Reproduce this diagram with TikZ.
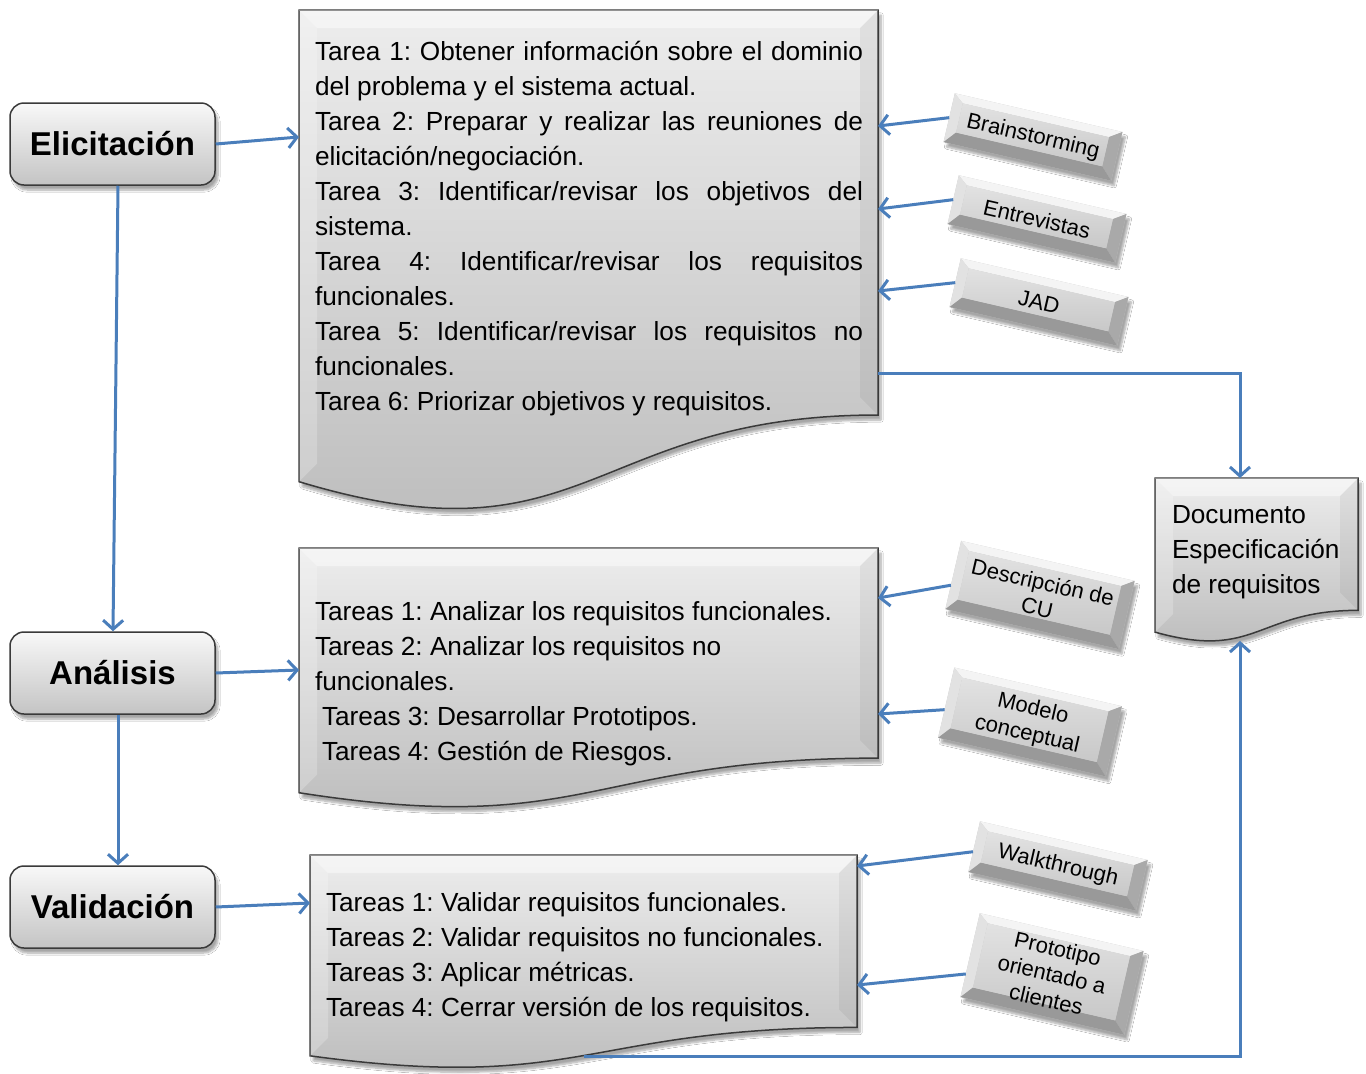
\documentclass[tikz,border=0pt]{standalone}
\usepackage{fontspec}
\setmainfont{Liberation Sans}
\usetikzlibrary{arrows.meta,calc,shadows.blur}
\frenchspacing

\definecolor{linkblue}{HTML}{4A7EBB}
\definecolor{edgegray}{HTML}{3A3A3A}
\definecolor{docTop}{HTML}{EDEDED}
\definecolor{docBot}{HTML}{B9B9B9}
\definecolor{phaseTop}{HTML}{F8F8F8}
\definecolor{phaseBot}{HTML}{C4C4C4}
\definecolor{keytop}{HTML}{F4F4F4}
\definecolor{keyleft}{HTML}{E2E2E2}
\definecolor{keyright}{HTML}{A9A9A9}
\definecolor{keybottom}{HTML}{999999}
\definecolor{keyface}{HTML}{C8C8C8}
\definecolor{keyhi}{HTML}{E2E2E2}

\tikzset{
  link/.style={draw=linkblue, line width=3pt, -{Straight Barb[length=9pt,width=20pt]}},
  softshadow/.style={blur shadow={shadow xshift=3pt, shadow yshift=-5pt, shadow blur steps=8, shadow opacity=35}},
  docfill/.style={draw=edgegray, line width=1.5pt, top color=docTop, bottom color=docBot},
  phase/.style={rounded corners=14pt, draw=edgegray, line width=1.5pt, top color=phaseTop, bottom color=phaseBot,
    minimum width=205pt, minimum height=82pt, inner sep=0pt, softshadow,
    font=\fontsize{33}{40}\selectfont\bfseries},
  frame/.style={draw=none, inner sep=0pt, outer sep=0pt},
  doctext/.style={anchor=north west, inner sep=0pt, outer sep=0pt, font=\fontsize{26.2}{35}\selectfont},
  keytext/.style={font=\fontsize{22}{26}\selectfont, align=center, inner sep=0pt, outer sep=0pt},
}

% document shape with wavy bottom edge, drawn over the frame node #1
\newcommand\docshape[1]{%
  \path[docfill, softshadow] (#1.north west) -- (#1.north east) -- ($(#1.north east)!0.802!(#1.south east)$)
     .. controls ($(#1.north)!0.802!(#1.south)$) and ($(#1.north)!1.107!(#1.south)$) .. ($(#1.north west)!0.934!(#1.south west)$) -- cycle;
  \fill[white, opacity=0.45] (#1.north west) -- (#1.north east) -- ($(#1.north east)+(-18,18)$) -- ($(#1.north west)+(18,18)$) -- cycle;
  \fill[white, opacity=0.22] (#1.north west) -- ($(#1.north west)+(18,18)$) -- ($(#1.north west)!0.934!(#1.south west)+(18,-18)$) -- ($(#1.north west)!0.934!(#1.south west)$) -- cycle;
  \fill[black, opacity=0.05] (#1.north east) -- ($(#1.north east)!0.802!(#1.south east)$) -- ($(#1.north east)!0.802!(#1.south east)+(-18,-18)$) -- ($(#1.north east)+(-18,18)$) -- cycle;
}

% bevelled key: name, centre x, centre y, width, height, label
\newcommand\keycap[6]{%
  \begin{scope}[shift={(#2,#3)}, rotate=-13]
    \pgfmathsetmacro\kx{#4/2}\pgfmathsetmacro\ky{#5/2}
    \path[softshadow, fill=keyface] (-\kx,-\ky) rectangle (\kx,\ky);
    \fill[keytop]    (-\kx,-\ky) -- (\kx,-\ky) -- (\kx-12,-\ky+8) -- (-\kx+10,-\ky+8) -- cycle;
    \fill[keyleft]   (-\kx,-\ky) -- (-\kx+10,-\ky+8) -- (-\kx+10,\ky-12) -- (-\kx,\ky) -- cycle;
    \fill[keyright]  (\kx,-\ky) -- (\kx,\ky) -- (\kx-12,\ky-12) -- (\kx-12,-\ky+8) -- cycle;
    \fill[keybottom] (-\kx,\ky) -- (-\kx+10,\ky-12) -- (\kx-12,\ky-12) -- (\kx,\ky) -- cycle;
    \shade[top color=keyhi, bottom color=keyface] (-\kx+10,-\ky+8) rectangle (\kx-12,\ky-12);
  \end{scope}
  \node[keytext, rotate=-13, minimum width=#4pt, minimum height=#5pt] (#1) at (#2,#3) {#6};
}

\begin{document}
\begin{tikzpicture}[x=1pt, y=-1pt]
\useasboundingbox (0,0) rectangle (1366,1074);
\fill[white] (0,0) rectangle (1366,1074);

% frames of the four documents
\node[frame, minimum width=579pt, minimum height=505pt] (d1) at (588.5,262.5) {};
\node[frame, minimum width=579pt, minimum height=262pt] (d2) at (588.5,679) {};
\node[frame, minimum width=547pt, minimum height=215pt] (d3) at (583.5,962.5) {};
\node[frame, minimum width=203pt, minimum height=165pt] (dd) at (1256.5,560.5) {};

\docshape{d1}
\docshape{d2}
\docshape{d3}
\docshape{dd}

% task lists
\node[doctext, text width=548pt, align=justify] (t1) at (315,35.5) {\strut
Tarea 1: Obtener información sobre el dominio\linebreak del problema y el sistema actual.\par
Tarea 2: Preparar y realizar las reuniones de\linebreak elicitación/negociación.\par
Tarea 3: Identificar/revisar los objetivos del\linebreak sistema.\par
Tarea 4: Identificar/revisar los requisitos\linebreak funcionales.\par
Tarea 5: Identificar/revisar los requisitos no\linebreak funcionales.\par
Tarea 6: Priorizar objetivos y requisitos.};

\node[doctext, align=left] (t2) at (315,595.5) {\strut Tareas 1: Analizar los requisitos funcionales.\\
Tareas 2: Analizar los requisitos no\\
funcionales.\\
\hspace*{7pt}Tareas 3: Desarrollar Prototipos.\\
\hspace*{7pt}Tareas 4: Gestión de Riesgos.};

\node[doctext, align=left] (t3) at (326,886.5) {\strut Tareas 1: Validar requisitos funcionales.\\
Tareas 2: Validar requisitos no funcionales.\\
Tareas 3: Aplicar métricas.\\
Tareas 4: Cerrar versión de los requisitos.};

\node[doctext, align=left] (td) at (1172,498.5) {\strut Documento\\Especificación\\de requisitos};

% phases
\node[phase] (el) at (112.5,144) {Elicitación};
\node[phase] (an) at (112.5,673) {Análisis\hspace{18pt}};
\node[phase] (va) at (112.5,907) {Validación};

% techniques
\keycap{k1}{1033}{137}{172}{50}{Brainstorming}
\keycap{k2}{1037}{219}{172}{50}{Entrevistas}
\keycap{k3}{1039}{302}{172}{50}{JAD}
\keycap{k4}{1040}{595}{178}{70}{Descripción de\\CU}
\keycap{k5}{1030}{722}{172}{72}{Modelo\\conceptual}
\keycap{k6}{1058}{866}{172}{52}{Walkthrough}
\keycap{k7}{1052}{974}{168}{86}{Prototipo\\orientado a\\clientes}

% connection points on the document outlines
\coordinate (d3b) at ($(d3.north)!0.938!(d3.south)$);
\coordinate (ddt) at ($(dd.north west)+(85,0)$);
\coordinate (ddb) at ($(dd.north west)+(85,163)$);

% flow between phases and documents
\draw[link] (el.east) -- ($(d1.north west)+(0,127)$);
\draw[link] (an.east) -- ($(d2.north west)+(0,122)$);
\draw[link] (va.east) -- ($(d3.north west)+(0,48)$);
\draw[link] ([xshift=5.5pt]el.south) -- ([xshift=0.5pt]an.north);
\draw[link] ([xshift=5.5pt]an.south) -- ([xshift=5.5pt]va.north);

% techniques feeding the task lists
\draw[link] (k1.west) -- ($(d1.north east)+(0,116)$);
\draw[link] (k2.west) -- ($(d1.north east)+(0,199)$);
\draw[link] (k3.west) -- ($(d1.north east)+(0,281)$);
\draw[link] ($(k4.west)!0.3!(k4.south west)$) -- ($(d2.north east)+(0,50)$);
\draw[link] ($(k5.west)!0.2!(k5.south west)$) -- ($(d2.north east)+(0,166)$);
\draw[link] ($(k6.west)!0.2!(k6.south west)$) -- ($(d3.north east)+(0,11)$);
\draw[link] ($(k7.west)!0.45!(k7.south west)$) -- ($(d3.north east)+(0,130)$);

% outputs into the specification document
\draw[link] ($(d1.north east)+(0,363)$) -| (ddt);
\draw[link] (d3b) -| (ddb);
\end{tikzpicture}
\end{document}
